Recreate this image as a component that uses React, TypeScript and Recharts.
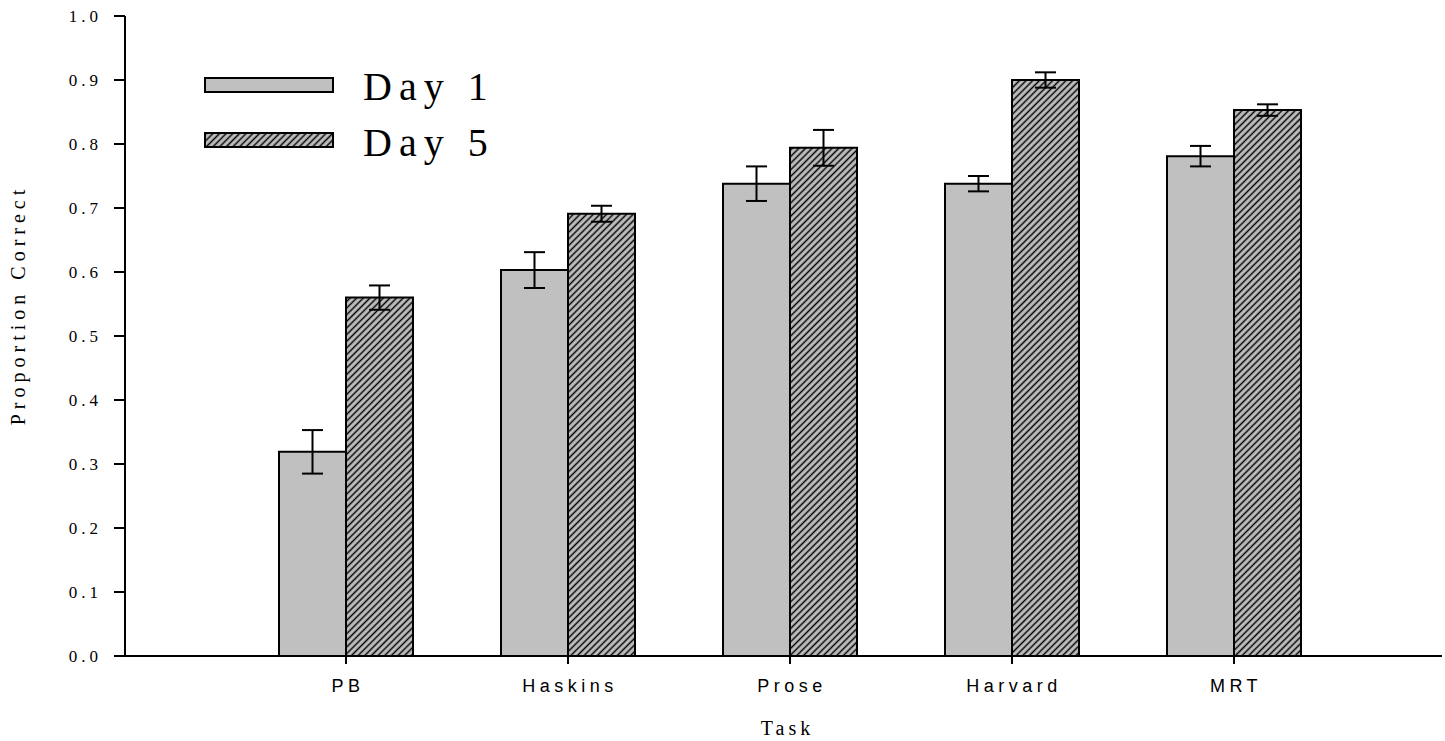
import React from 'react';
import { BarChart, Bar, XAxis, YAxis, ErrorBar, Legend, Label } from 'recharts';

const tasks = ['PB', 'Haskins', 'Prose', 'Harvard', 'MRT'];
const day1 = [0.319, 0.603, 0.738, 0.738, 0.781];
const day1Err = [0.034, 0.028, 0.027, 0.012, 0.016];
const day5 = [0.56, 0.691, 0.794, 0.9, 0.853];
const day5Err = [0.019, 0.0125, 0.028, 0.012, 0.009];
const yTicks = [0, 0.1, 0.2, 0.3, 0.4, 0.5, 0.6, 0.7, 0.8, 0.9, 1.0];
const seriesNames = ['Day 1', 'Day 5'];

const data = tasks.map((t, i) => ({
  task: t,
  d1: day1[i],
  e1: day1Err[i],
  d5: day5[i],
  e5: day5Err[i],
}));

const SERIF = '"Liberation Serif", "Times New Roman", serif';
const SANS = '"Liberation Sans", Arial, sans-serif';

const fills = ['#c0c0c0', 'url(#hatch)'];

const LegendContent = () => (
  <svg width={320} height={110} style={{ overflow: 'visible' }}>
    {seriesNames.map((name, i) => (
      <g key={name}>
        <rect x={5} y={8 + i * 55} width={128} height={14} fill={fills[i]} stroke="#000" strokeWidth={2} />
        <text
          x={163}
          y={30 + i * 56}
          fontFamily={SERIF}
          fontSize={40}
          letterSpacing={7}
          fill="#000"
        >
          {name}
        </text>
      </g>
    ))}
  </svg>
);

export default function App() {
  return (
    <div style={{ position: 'absolute', left: 0, top: 0, background: '#fff' }}>
      <BarChart
        width={1445}
        height={741}
        data={data}
        margin={{ top: 16, right: 3, bottom: 0, left: 0 }}
        barGap={0}
        barCategoryGap={44}
      >
        <defs>
          <pattern
            id="hatch"
            patternUnits="userSpaceOnUse"
            width={4.7}
            height={4.7}
            patternTransform="rotate(45)"
          >
            <rect x={0} y={0} width={4.7} height={4.7} fill="#c0c0c0" />
            <line x1={2.35} y1={0} x2={2.35} y2={4.7} stroke="#000" strokeWidth={1.5} />
          </pattern>
        </defs>
        <XAxis
          dataKey="task"
          height={85}
          padding={{ left: 110, right: 97 }}
          axisLine={{ stroke: '#000', strokeWidth: 2 }}
          tickLine={{ stroke: '#000', strokeWidth: 2 }}
          tickSize={8}
          tickMargin={15}
          tick={{ fill: '#000', fontFamily: SANS, fontSize: 18, letterSpacing: 4.5, dx: 2 }}
        >
          <Label
            content={({ viewBox }: any) => (
              <text
                x={viewBox.x + viewBox.width / 2 + 4}
                y={viewBox.y + 79}
                textAnchor="middle"
                fontFamily={SERIF}
                fontSize={20}
                letterSpacing={4}
                fill="#000"
              >
                Task
              </text>
            )}
          />
        </XAxis>
        <YAxis
          width={125}
          domain={[0, 1]}
          ticks={yTicks}
          interval={0}
          tickFormatter={(v: number) => v.toFixed(1)}
          axisLine={{ stroke: '#000', strokeWidth: 2 }}
          tickLine={{ stroke: '#000', strokeWidth: 2 }}
          tickSize={11}
          tickMargin={12}
          tick={{ fill: '#000', fontFamily: SERIF, fontSize: 17, letterSpacing: 4 }}
        >
          <Label
            content={({ viewBox }: any) => {
              const cx = viewBox.x + 25;
              const cy = viewBox.y + viewBox.height / 2 - 31;
              return (
                <text
                  x={cx}
                  y={cy}
                  transform={`rotate(-90, ${cx}, ${cy})`}
                  textAnchor="middle"
                  fontFamily={SERIF}
                  fontSize={20}
                  letterSpacing={5}
                  fill="#000"
                >
                  Proportion Correct
                </text>
              );
            }}
          />
        </YAxis>
        <Legend
          layout="horizontal"
          verticalAlign="middle"
          align="center"
          content={<LegendContent />}
          wrapperStyle={{ left: 200, top: 70, width: 320, height: 110 }}
        />
        <Bar dataKey="d1" name="Day 1" fill="#c0c0c0" stroke="#000" strokeWidth={2} isAnimationActive={false}>
          <ErrorBar dataKey="e1" width={10.5} stroke="#000" strokeWidth={2} direction="y" />
        </Bar>
        <Bar dataKey="d5" name="Day 5" fill="url(#hatch)" stroke="#000" strokeWidth={2} isAnimationActive={false}>
          <ErrorBar dataKey="e5" width={10.5} stroke="#000" strokeWidth={2} direction="y" />
        </Bar>
      </BarChart>
    </div>
  );
}
